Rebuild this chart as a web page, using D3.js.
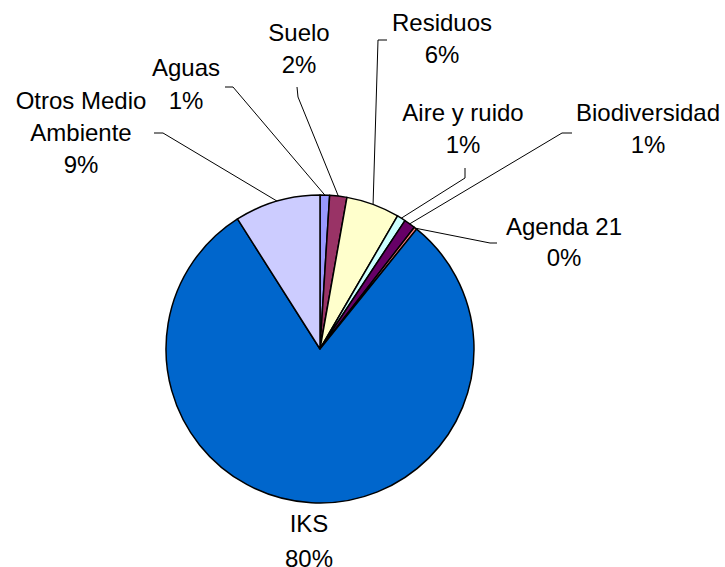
<!DOCTYPE html>
<html>
<head>
<meta charset="utf-8">
<script src="https://cdn.jsdelivr.net/npm/d3@7"></script>
<style>
  body { margin: 0; background: #fff; }
  text { font-family: "Liberation Sans", Arial, sans-serif; font-size: 24px; fill: #000; }
</style>
</head>
<body>
<svg width="725" height="567"></svg>
<script>
// slices, clockwise from 12 o'clock
const names   = ["Aguas", "Suelo", "Residuos", "Aire y ruido", "Biodiversidad", "Agenda 21", "IKS", "Otros Medio Ambiente"];
const values  = [1.0, 1.8, 5.6, 0.9, 1.2, 0.3, 80.2, 9.0];
const colors  = ["#9999FF", "#993366", "#FFFFCC", "#CCFFFF", "#660066", "#FF8080", "#0066CC", "#CCCCFF"];

// label layout: text lines, center x, first baseline, line gap, leader elbow points
const labelLines = [["Aguas"], ["Suelo"], ["Residuos"], ["Aire y ruido"], ["Biodiversidad"], ["Agenda 21"], ["IKS"], ["Otros Medio", "Ambiente"]];
const labelPos = [
  {x: 186, y: 76,  gap: 33, elbow: [[225, 87], [233, 87]]},
  {x: 299, y: 41,  gap: 32, elbow: [[297, 87], [298, 97]]},
  {x: 442, y: 31,  gap: 32, elbow: [[387, 40], [378, 40]]},
  {x: 463, y: 121, gap: 32, elbow: [[465, 168], [465, 178]]},
  {x: 648, y: 121, gap: 32, elbow: [[572, 133], [562, 133]]},
  {x: 564, y: 235, gap: 31, elbow: [[497, 243], [490, 243]]},
  {x: 309, y: 532, gap: 35, elbow: null},
  {x: 81,  y: 109, gap: 32, elbow: [[154, 133], [163, 133]]}
];

const svg    = d3.select("svg");
const cx     = 320;
const cy     = 349;
const radius = 154;

const data = names.map((n, i) => ({name: n, value: values[i], color: colors[i], i: i}));

const pie = d3.pie().sort(null).value(d => d.value);
const arcs = pie(data);

const arc = d3.arc().innerRadius(0).outerRadius(radius);
const edge = d3.arc().innerRadius(radius).outerRadius(radius);

const g = svg.append("g").attr("transform", `translate(${cx},${cy})`);

g.selectAll("path.slice")
  .data(arcs)
  .enter()
  .append("path")
  .attr("class", "slice")
  .attr("d", arc)
  .style("fill", d => d.data.color)
  .style("stroke", "#000")
  .style("stroke-width", 1.5)
  .style("stroke-linejoin", "round");

// leader lines from slice edge to label
const lines = svg.append("g");
arcs.forEach(function(d) {
  const p = labelPos[d.data.i];
  if (!p.elbow) return;
  const c = edge.centroid(d);
  const pts = p.elbow.concat([[cx + c[0], cy + c[1]]]);
  lines.append("path")
    .attr("d", d3.line()(pts))
    .style("fill", "none")
    .style("stroke", "#000")
    .style("stroke-width", 1);
});

// labels
const labels = svg.append("g");
arcs.forEach(function(d) {
  const p = labelPos[d.data.i];
  const txt = labelLines[d.data.i].concat([Math.round(d.data.value) + "%"]);
  const t = labels.append("text")
    .attr("text-anchor", "middle")
    .attr("x", p.x)
    .attr("y", p.y);
  txt.forEach(function(s, k) {
    t.append("tspan")
      .attr("x", p.x)
      .attr("dy", k === 0 ? 0 : p.gap)
      .text(s);
  });
});
</script>
</body>
</html>
